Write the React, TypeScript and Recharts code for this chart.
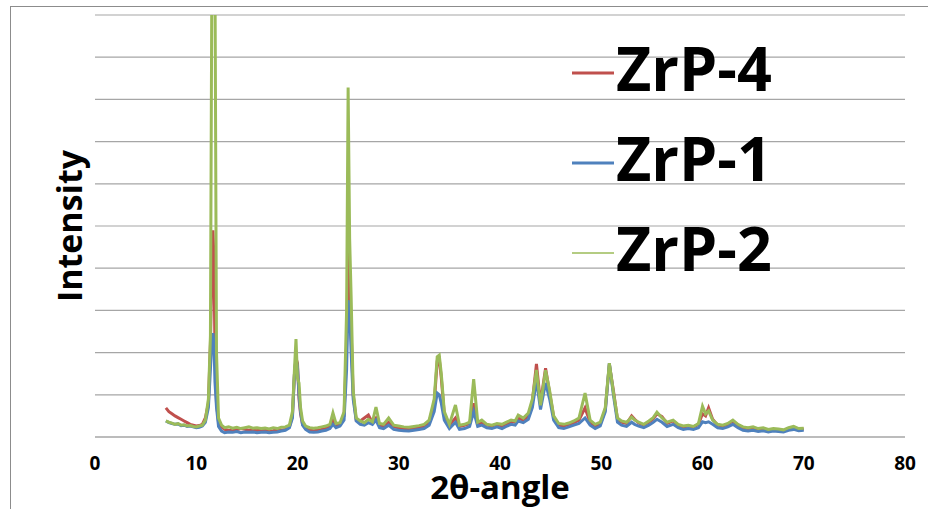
import React from 'react';
import {
    LineChart,
    Line,
    XAxis,
    YAxis,
    CartesianGrid,
    Label
} from 'recharts';

// 2θ positions (degrees)
const angles = [
    7.0, 7.3, 7.6, 7.9, 8.2, 8.5, 8.8, 9.1, 9.4, 9.7,
    10.0, 10.3, 10.6, 10.9, 11.2, 11.4, 11.55, 11.65, 11.75, 11.85,
    12.0, 12.2, 12.5, 12.8, 13.2, 13.6, 14.0, 14.4, 14.8, 15.2,
    15.6, 16.0, 16.4, 16.8, 17.2, 17.6, 18.0, 18.4, 18.8, 19.2,
    19.5, 19.7, 19.85, 20.0, 20.15, 20.3, 20.5, 20.8, 21.2, 21.6,
    22.0, 22.4, 22.8, 23.2, 23.5, 23.8, 24.2, 24.6, 24.85, 25.0,
    25.15, 25.3, 25.5, 25.8, 26.2, 26.6, 27.0, 27.4, 27.75, 28.1,
    28.5, 29.0, 29.5, 30.0, 30.5, 31.0, 31.5, 32.0, 32.5, 33.0,
    33.5, 33.8, 34.0, 34.2, 34.5, 35.0, 35.6, 36.0, 36.5, 37.0,
    37.4, 37.8, 38.2, 38.7, 39.2, 39.7, 40.2, 40.7, 41.1, 41.5,
    41.8, 42.3, 42.8, 43.2, 43.6, 44.0, 44.5, 44.9, 45.3, 45.8,
    46.3, 46.8, 47.3, 47.8, 48.4, 48.9, 49.4, 49.9, 50.4, 50.8,
    51.2, 51.6, 52.0, 52.5, 53.0, 53.3, 53.7, 54.2, 54.7, 55.1,
    55.5, 56.0, 56.5, 57.1, 57.6, 58.1, 58.6, 59.1, 59.6, 60.0,
    60.3, 60.6, 61.0, 61.5, 62.0, 62.5, 63.0, 63.5, 64.0, 64.5,
    65.0, 65.5, 66.0, 66.5, 67.0, 67.5, 68.0, 68.5, 69.0, 69.5,
    70.0
];

const zrp4 = [
    69, 60, 55, 50, 46, 42, 38, 34, 30, 28,
    26, 27, 30, 45, 80, 220, 400, 490, 420, 200,
    80, 35, 24, 18, 16, 15, 17, 20, 18, 16,
    17, 15, 18, 16, 14, 15, 17, 16, 18, 24,
    50, 150, 187, 175, 90, 55, 30, 20, 16, 15,
    16, 18, 20, 24, 40, 28, 30, 50, 220, 440,
    380, 250, 100, 40, 38, 45, 52, 34, 45, 28,
    26, 35, 24, 22, 20, 18, 20, 22, 25, 35,
    80, 180, 185, 140, 55, 28, 45, 25, 28, 32,
    80, 30, 35, 28, 26, 30, 26, 32, 36, 35,
    45, 40, 50, 85, 173, 80, 163, 105, 48, 28,
    26, 30, 34, 40, 69, 35, 26, 30, 65, 172,
    110, 42, 35, 32, 50, 42, 33, 28, 35, 42,
    55, 48, 32, 38, 28, 24, 26, 24, 30, 55,
    50, 69, 42, 28, 26, 30, 38, 28, 22, 20,
    22, 18, 20, 16, 18, 17, 15, 20, 22, 18,
    19
];

const zrp1 = [
    38, 34, 32, 30, 31, 27, 28, 25, 26, 24,
    22, 23, 26, 35, 70, 160, 230, 246, 220, 130,
    70, 25, 14, 10, 12, 11, 13, 10, 12, 11,
    12, 10, 11, 12, 10, 11, 12, 14, 16, 22,
    45, 150, 187, 165, 100, 60, 28, 18, 12, 11,
    12, 14, 16, 20, 30, 22, 26, 40, 160, 324,
    300, 200, 90, 38, 30, 28, 34, 30, 40, 22,
    20, 28, 18, 16, 15, 14, 16, 18, 20, 28,
    60, 104, 100, 80, 40, 20, 35, 18, 20, 25,
    60, 25, 28, 22, 20, 24, 20, 26, 30, 28,
    38, 34, 42, 70, 135, 65, 128, 90, 40, 22,
    20, 24, 28, 32, 45, 28, 20, 26, 60, 175,
    100, 35, 28, 25, 35, 30, 26, 22, 28, 34,
    42, 35, 25, 30, 22, 18, 20, 18, 22, 36,
    34, 36, 30, 22, 20, 24, 30, 22, 16, 14,
    16, 13, 15, 12, 14, 13, 12, 16, 18, 15,
    16
];

const zrp2 = [
    38, 35, 33, 30, 32, 28, 29, 26, 27, 25,
    24, 26, 28, 40, 90, 240, 1150, 1400, 1350, 1100,
    200, 45, 28, 22, 24, 21, 23, 20, 22, 24,
    21, 22, 20, 21, 19, 22, 20, 23, 24, 28,
    60, 160, 232, 140, 128, 70, 38, 26, 22, 21,
    22, 24, 26, 30, 57, 32, 34, 60, 300, 828,
    470, 330, 110, 45, 38, 34, 42, 36, 71, 32,
    30, 45, 28, 26, 24, 23, 25, 27, 30, 40,
    90, 190, 194, 150, 60, 30, 76, 28, 30, 35,
    137, 35, 40, 30, 28, 32, 30, 36, 40, 38,
    52, 45, 57, 90, 159, 75, 158, 110, 50, 32,
    30, 33, 38, 45, 104, 40, 30, 35, 70, 175,
    106, 45, 38, 35, 47, 40, 35, 30, 38, 45,
    59, 45, 35, 40, 30, 26, 28, 25, 32, 73,
    55, 62, 40, 30, 28, 32, 40, 30, 24, 22,
    24, 20, 22, 18, 20, 19, 17, 22, 25, 20,
    21
];

const xTicks = [0, 10, 20, 30, 40, 50, 60, 70, 80];
const yTicks = [0, 100, 200, 300, 400, 500, 600, 700, 800, 900, 1000];

const series = [
    { key: 'zrp4', name: 'ZrP-4', color: '#C0504D', legendWidth: 3 },
    { key: 'zrp1', name: 'ZrP-1', color: '#4F81BD', legendWidth: 3 },
    { key: 'zrp2', name: 'ZrP-2', color: '#9BBB59', legendWidth: 1.5 },
];

const data = angles.map((a, i) => ({
    angle: a,
    zrp4: zrp4[i],
    zrp1: zrp1[i],
    zrp2: zrp2[i],
}));

const font = '"Open Sans", sans-serif';

// no y tick labels in the original, but the grid still needs the ticks
const NoTick = () => <g />;

const XrdChart: React.FC = () => {
    return (
        <div
            style={{
                position: 'absolute',
                left: 0,
                top: 0,
                width: 928,
                height: 509,
                background: '#fff',
                fontFamily: font,
                overflow: 'hidden',
            }}
        >
            <LineChart
                width={928}
                height={509}
                data={data}
                margin={{ top: 15, right: 23, left: 15, bottom: 0 }}
                style={{ position: 'absolute', left: 0, top: 0 }}
            >
                <CartesianGrid vertical={false} stroke="#a6a6a6" strokeWidth={1.2} />
                <XAxis
                    dataKey="angle"
                    type="number"
                    domain={[0, 80]}
                    ticks={xTicks}
                    height={72}
                    tickLine={false}
                    tickSize={0}
                    tickMargin={20}
                    axisLine={{ stroke: '#a6a6a6', strokeWidth: 1.2 }}
                    tick={{ fontSize: 19, fontWeight: 700, fill: '#000' }}
                >
                    <Label
                        content={({ viewBox }: any) => (
                            <text
                                x={viewBox.x + viewBox.width / 2}
                                y={viewBox.y + 62}
                                textAnchor="middle"
                                fontSize={33}
                                fontWeight={700}
                                fill="#000"
                            >
                                2θ-angle
                            </text>
                        )}
                    />
                </XAxis>
                <YAxis
                    type="number"
                    domain={[0, 1000]}
                    ticks={yTicks}
                    allowDataOverflow
                    width={80}
                    tick={<NoTick />}
                    tickLine={false}
                    axisLine={false}
                >
                    <Label
                        content={({ viewBox }: any) => {
                            const cx = viewBox.x + 54;
                            const cy = viewBox.y + viewBox.height / 2;
                            return (
                                <text
                                    x={cx}
                                    y={cy}
                                    transform={`rotate(-90, ${cx}, ${cy})`}
                                    textAnchor="middle"
                                    dominantBaseline="central"
                                    fontSize={34}
                                    fontWeight={700}
                                    fill="#000"
                                >
                                    Intensity
                                </text>
                            );
                        }}
                    />
                </YAxis>
                {series.map((s) => (
                    <Line
                        key={s.key}
                        type="linear"
                        dataKey={s.key}
                        name={s.name}
                        stroke={s.color}
                        strokeWidth={3}
                        dot={false}
                        isAnimationActive={false}
                    />
                ))}
            </LineChart>
            {/* outer frame: only top and left edges show in the original */}
            <div
                style={{
                    position: 'absolute',
                    left: 10,
                    top: 6,
                    width: 940,
                    height: 520,
                    borderTop: '1px solid #8c8c8c',
                    borderLeft: '1px solid #8c8c8c',
                    pointerEvents: 'none',
                }}
            />
            {/* legend sits over the plot, top right */}
            <div style={{ position: 'absolute', left: 570, top: 23, width: 260 }}>
                {series.map((s) => (
                    <div key={s.key} style={{ position: 'relative', height: 90 }}>
                        <svg
                            width={44}
                            height={6}
                            style={{ position: 'absolute', left: 2, top: 47 }}
                        >
                            <line
                                x1={0}
                                y1={3}
                                x2={42}
                                y2={3}
                                stroke={s.color}
                                strokeWidth={s.legendWidth}
                            />
                        </svg>
                        <span
                            style={{
                                position: 'absolute',
                                left: 46,
                                top: 0,
                                fontFamily: font,
                                fontWeight: 700,
                                fontSize: 61,
                                color: '#000',
                                lineHeight: '90px',
                                whiteSpace: 'nowrap',
                            }}
                        >
                            {s.name}
                        </span>
                    </div>
                ))}
            </div>
        </div>
    );
};

export default XrdChart;
